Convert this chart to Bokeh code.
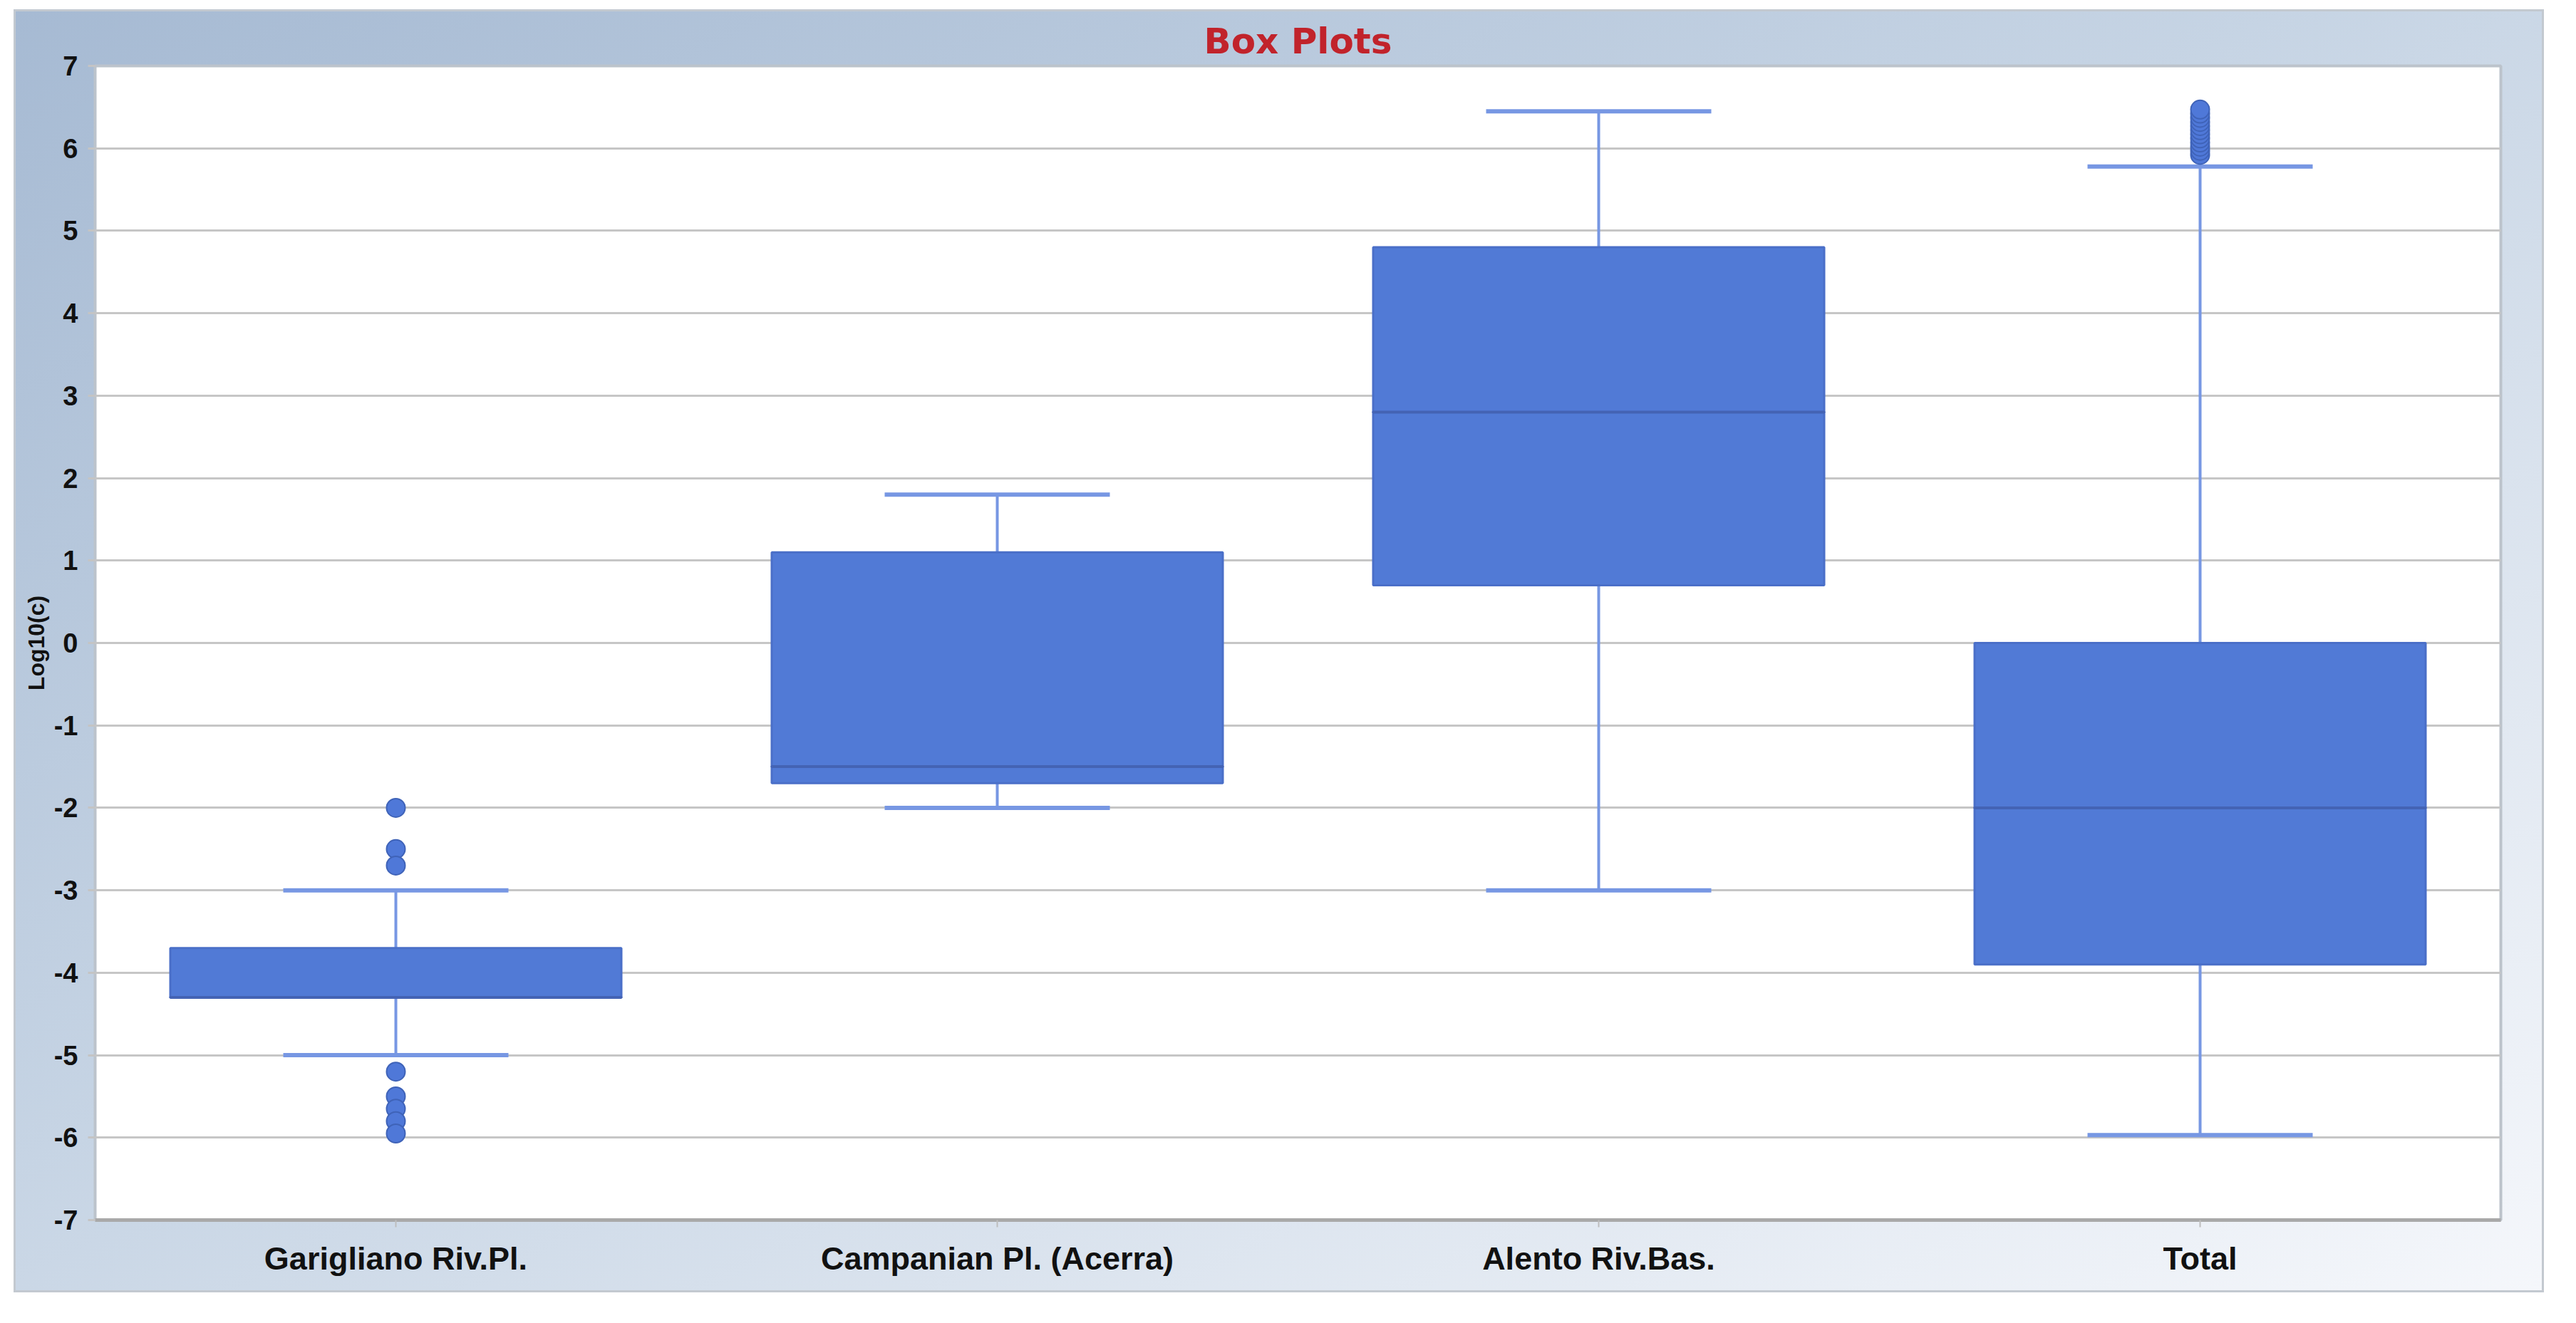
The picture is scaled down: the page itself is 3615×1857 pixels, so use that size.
from bokeh.plotting import figure
from bokeh.models import ColumnDataSource, FixedTicker, Whisker, TeeHead, Spacer
from bokeh.layouts import column, row
from bokeh.embed import file_html
from bokeh.resources import INLINE

# ---------------- data ----------------
categories = ["Garigliano Riv.Pl.", "Campanian Pl. (Acerra)", "Alento Riv.Bas.", "Total"]
q1 = [-4.3, -1.7, 0.7, -3.9]
q3 = [-3.7, 1.1, 4.8, 0.0]
medians = [-4.3, -1.5, 2.8, -2.0]
whisker_low = [-5.0, -2.0, -3.0, -5.97]
whisker_high = [-3.0, 1.8, 6.45, 5.78]
outliers_garigliano = [-2.0, -2.5, -2.7, -5.2, -5.5, -5.65, -5.8, -5.95]
outliers_campanian = []
outliers_alento = []
outliers_total = [5.92, 5.97, 6.02, 6.07, 6.12, 6.17, 6.22, 6.27, 6.32, 6.37, 6.42, 6.47]
y_ticks = list(range(-7, 8))
title_text = "Box Plots"
y_label = "Log10(c)"

# ---------------- sources ----------------
box_src = ColumnDataSource(dict(cat=categories, q1=q1, q3=q3, med=medians,
                                lo=whisker_low, hi=whisker_high))
out_lists = [outliers_garigliano, outliers_campanian, outliers_alento, outliers_total]
out_cat, out_val = [], []
for c, vals in zip(categories, out_lists):
    for v in vals:
        out_cat.append(c)
        out_val.append(v)
out_src = ColumnDataSource(dict(cat=out_cat, val=out_val))

# ---------------- figure ----------------
font = "'Liberation Sans Narrow', 'Arial Narrow', 'Liberation Sans', sans-serif"

p = figure(x_range=categories, y_range=(-7, 7), width=3551, height=1801,
           output_backend="svg", toolbar_location=None, title=title_text,
           min_border_left=114, min_border_right=61, min_border_top=79, min_border_bottom=102)
p.border_fill_alpha = 0
p.background_fill_color = "white"
p.styles = {"background": "linear-gradient(to bottom right, #a6bad3 0%, #c6d4e4 45%, #f5f7fb 100%)",
            "box-shadow": "inset 0 0 0 3px #c3c9d0"}
p.outline_line_color = "#bcc3cb"
p.outline_line_width = 4

p.title.align = "center"
p.title.text_color = "#c1232b"
p.title.text_font = "DejaVu Sans"
p.title.text_font_style = "bold"
p.title.text_font_size = "50px"
p.title.standoff = 12

# grid
p.xgrid.grid_line_color = None
p.ygrid.grid_line_color = "#c6c6c6"
p.ygrid.grid_line_width = 3
p.ygrid.ticker = FixedTicker(ticks=y_ticks)

# y axis
p.yaxis.ticker = FixedTicker(ticks=y_ticks)
p.yaxis.major_label_overrides = {t: str(t) for t in y_ticks}
p.yaxis.axis_line_color = None
p.yaxis.major_tick_out = 10
p.yaxis.major_tick_in = 0
p.yaxis.major_tick_line_color = "#c4c4c4"
p.yaxis.major_tick_line_width = 3
p.yaxis.minor_tick_line_color = None
p.yaxis.major_label_text_font = font
p.yaxis.major_label_text_font_style = "bold"
p.yaxis.major_label_text_font_size = "38px"
p.yaxis.major_label_text_color = "#111111"
p.yaxis.major_label_standoff = 14
p.yaxis.axis_label = y_label
p.yaxis.axis_label_text_font = font
p.yaxis.axis_label_text_font_style = "bold"
p.yaxis.axis_label_text_font_size = "32px"
p.yaxis.axis_label_text_color = "#111111"
p.yaxis.axis_label_standoff = 4

# x axis
p.xaxis.axis_line_color = "#a9a9a9"
p.xaxis.axis_line_width = 5
p.xaxis.major_tick_out = 10
p.xaxis.major_tick_in = 0
p.xaxis.major_tick_line_color = "#bdbdbd"
p.xaxis.major_tick_line_width = 2
p.xaxis.major_label_text_font = font
p.xaxis.major_label_text_font_style = "bold"
p.xaxis.major_label_text_font_size = "45px"
p.xaxis.major_label_text_color = "#111111"
p.xaxis.major_label_standoff = 18

# whiskers (stem + cap)
whisk_col = "#7797e3"
up = Whisker(source=box_src, base="cat", lower="q3", upper="hi", dimension="height",
             line_color=whisk_col, line_width=4,
             upper_head=TeeHead(size=316, line_color=whisk_col, line_width=6),
             lower_head=None)
dn = Whisker(source=box_src, base="cat", lower="lo", upper="q1", dimension="height",
             line_color=whisk_col, line_width=4,
             lower_head=TeeHead(size=316, line_color=whisk_col, line_width=6),
             upper_head=None)
p.add_layout(up)
p.add_layout(dn)

# boxes
p.vbar(x="cat", bottom="q1", top="q3", width=0.75, source=box_src,
       fill_color="#517ad6", line_color="#4a6fc8", line_width=3)
# medians
p.rect(x="cat", y="med", width=0.75, height=0.0001, source=box_src,
       fill_color=None, line_color="#4463b4", line_width=4)

# outliers
p.scatter(x="cat", y="val", source=out_src, marker="circle", size=26,
          fill_color="#4f78d8", line_color="#3f63b8", line_width=2)

layout = column(Spacer(width=10, height=13),
                row(Spacer(width=19, height=10), p))

open("out.html", "w").write(file_html(layout, INLINE))
